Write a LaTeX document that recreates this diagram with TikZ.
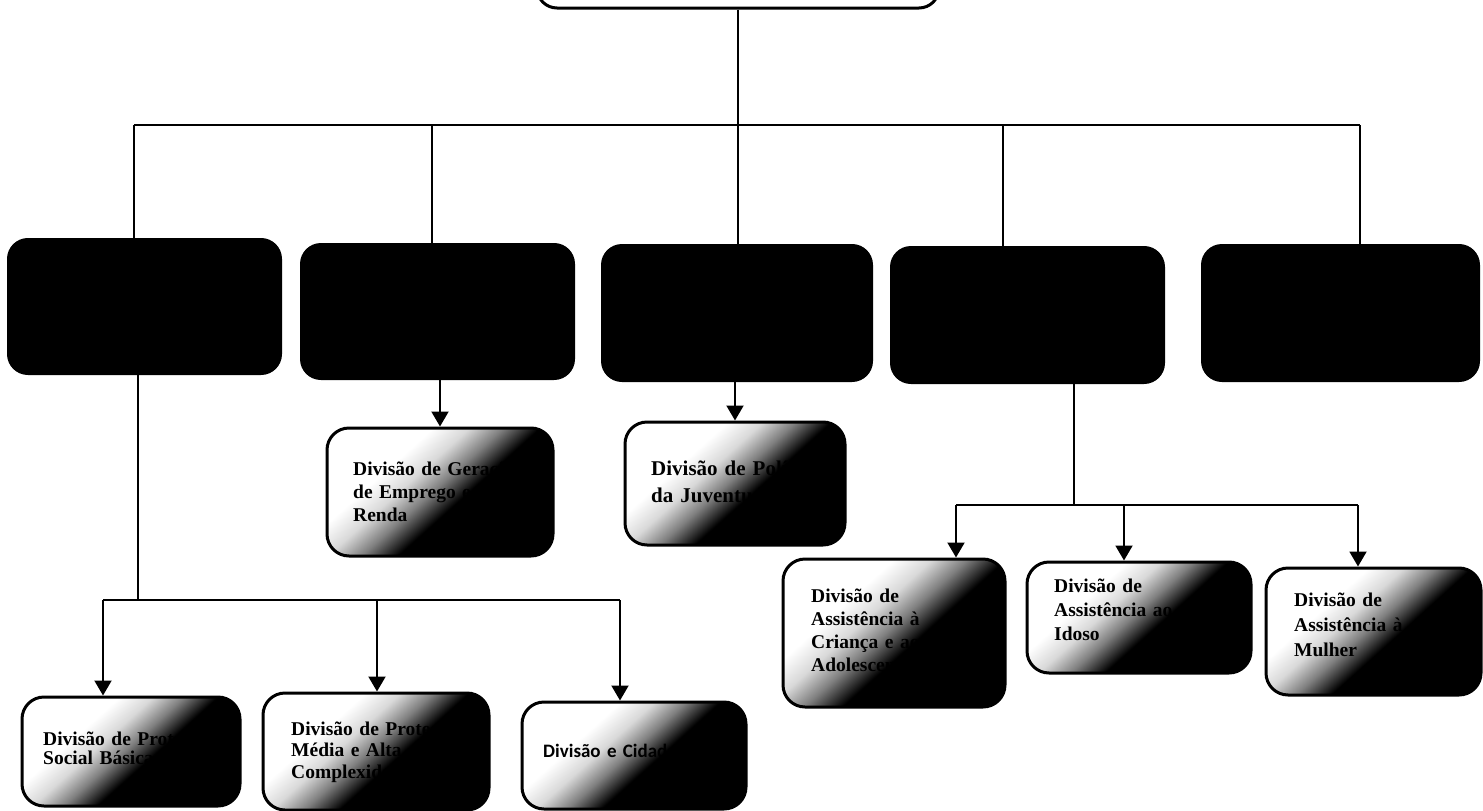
\documentclass[tikz,border=0pt]{standalone}
\usepackage{fontspec}
\setmainfont{Liberation Serif}
\newfontfamily\cidfont{Carlito}
\usetikzlibrary{arrows.meta}
\definecolor{FadeLight}{gray}{0.85}
\definecolor{FadeClr}{gray}{0.5}
\pgfdeclarehorizontalshading{divfade}{100bp}{color(0bp)=(white); color(35bp)=(white); color(42bp)=(FadeLight); color(48.5bp)=(FadeClr); color(55.5bp)=(black); color(100bp)=(black)}

\begin{document}
\begin{tikzpicture}[x=1pt,y=-1pt,
  chefe/.style={draw=black,line width=3pt,rounded corners=20pt,fill=white,inner sep=0pt},
  depto/.style={draw=black,fill=black,line width=2pt,rounded corners=20pt,inner sep=0pt},
  divisao/.style={draw=black,line width=3pt,rounded corners=22pt,inner sep=0pt,shade,shading=divfade,shading angle=-48},
  divtext/.style={anchor=base west,inner sep=0pt,text width=210pt,align=left,font=\bfseries\fontsize{19.5}{23}\selectfont},
  liga/.style={line width=2pt},
  seta/.style={line width=2pt,-{Triangle[length=15pt,width=17pt]}}]
\useasboundingbox (0,0) rectangle (1483,811);

% Caixa da secretaria (cortada no topo).
\node[chefe,minimum width=402pt,minimum height=76pt] (sec) at (738,-30) {};

% Departamentos.
\node[depto,minimum width=273pt,minimum height=135pt] (dep1) at (144.5,306.5) {};
\node[depto,minimum width=273pt,minimum height=135pt] (dep2) at (437.5,311.5) {};
\node[depto,minimum width=270pt,minimum height=136pt] (dep3) at (737,313) {};
\node[depto,minimum width=273pt,minimum height=136pt] (dep4) at (1027.5,315) {};
\node[depto,minimum width=277pt,minimum height=136pt] (dep5) at (1340.5,313) {};

% Divisoes.
\node[divisao,minimum width=226pt,minimum height=128pt] (divD) at (440,492) {};
\node[divisao,minimum width=220pt,minimum height=123pt] (divE) at (735,483.5) {};
\node[divisao,minimum width=222pt,minimum height=148pt] (divF) at (894,633) {};
\node[divisao,minimum width=224pt,minimum height=111pt] (divG) at (1139,617.5) {};
\node[divisao,minimum width=215pt,minimum height=127pt] (divH) at (1373.5,631.5) {};
\node[divisao,minimum width=218pt,minimum height=109pt] (divA) at (131,751.5) {};
\node[divisao,minimum width=226pt,minimum height=117pt] (divB) at (376,751.5) {};
\node[divisao,minimum width=224pt,minimum height=107pt] (divC) at (634,755.5) {};

% Nomes das divisoes.
\node[divtext,font=\bfseries\fontsize{19.5}{19}\selectfont] (txtA) at (43,745) {Divisão de Proteção\\Social Básica};
\node[divtext,font=\bfseries\fontsize{19.5}{21.5}\selectfont] (txtB) at (291,735) {Divisão de Proteção\\Média e Alta\\Complexidade};
\node[divtext,font=\cidfont\bfseries\fontsize{19}{23}\selectfont] (txtC) at (543,757) {Divisão e Cidadania};
\node[divtext] (txtD) at (353,475) {Divisão de Geração\\de Emprego e\\Renda};
\node[divtext,font=\bfseries\fontsize{21}{27}\selectfont] (txtE) at (651,475) {Divisão de Políticas\\da Juventude};
\node[divtext] (txtF) at (811,602) {Divisão de\\Assistência à\\Criança e ao\\Adolescente};
\node[divtext,font=\bfseries\fontsize{19.5}{24}\selectfont] (txtG) at (1054,592) {Divisão de\\Assistência ao\\Idoso};
\node[divtext,font=\bfseries\fontsize{19.5}{25}\selectfont] (txtH) at (1294,606) {Divisão de\\Assistência à\\Mulher};

% Ligacoes do topo aos departamentos.
\coordinate (bus1) at (134,125);
\coordinate (bus2) at (432,125);
\coordinate (bus3) at (738,125);
\coordinate (bus4) at (1003,125);
\coordinate (bus5) at (1360,125);
\draw[liga] (sec.south) -- (sec.south |- bus3);
\draw[liga,line width=2.5pt] (bus1) -- (bus5);
\draw[liga] (bus1) -- (bus1 |- dep1.north);
\draw[liga] (bus2) -- (bus2 |- dep2.north);
\draw[liga] (bus3) -- (bus3 |- dep3.north);
\draw[liga] (bus4) -- (bus4 |- dep4.north);
\draw[liga] (bus5) -- (bus5 |- dep5.north);

% Ramo da esquerda.
\coordinate (ramo1) at (138,600);
\coordinate (ramoA) at (103,600);
\coordinate (ramoB) at (377,600);
\coordinate (ramoC) at (620,600);
\draw[liga] (ramo1 |- dep1.south) -- (ramo1);
\draw[liga] (ramoA) -- (ramoC);
\draw[seta] (ramoA) -- (ramoA |- divA.north);
\draw[seta] (ramoB) -- (ramoB |- divB.north);
\draw[seta] (ramoC) -- (ramoC |- divC.north);

% Setas simples.
\draw[seta] (dep2.south -| divD.north) -- (divD.north);
\draw[seta] (dep3.south -| divE.north) -- (divE.north);

% Ramo da direita.
\coordinate (ramo4) at (1074,505);
\coordinate (ramoF) at (956,505);
\coordinate (ramoG) at (1124,505);
\coordinate (ramoH) at (1358,505);
\draw[liga] (ramo4 |- dep4.south) -- (ramo4);
\draw[liga] (ramoF) -- (ramoH);
\draw[seta] (ramoF) -- (ramoF |- divF.north);
\draw[seta] (ramoG) -- (ramoG |- divG.north);
\draw[seta] (ramoH) -- (ramoH |- divH.north);

\end{tikzpicture}
\end{document}
